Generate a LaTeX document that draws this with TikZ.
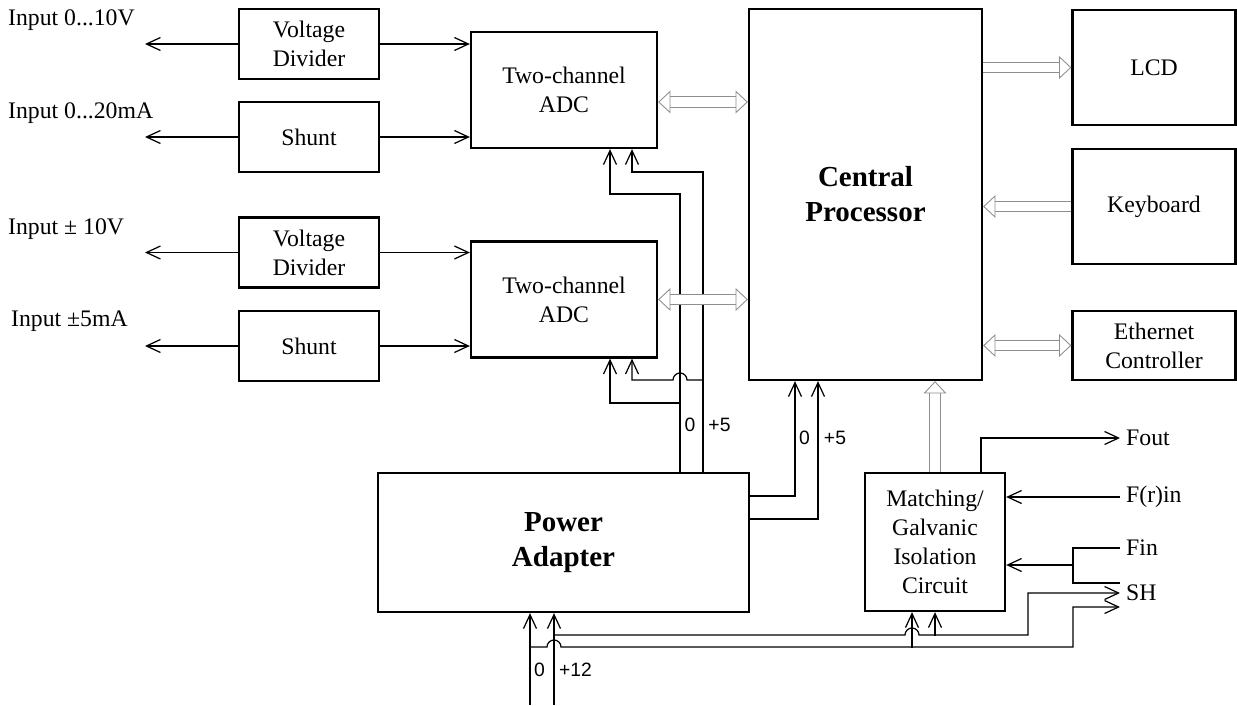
\documentclass[tikz,border=0pt]{standalone}
\usepackage{fontspec}
\setmainfont{Liberation Serif}
\newfontfamily\voltfont{Liberation Sans}
\usepackage{xcolor}
\usepackage{tikz}
\usetikzlibrary{arrows.meta,positioning,calc}
\definecolor{BusGray}{HTML}{8E8E8E}

\begin{document}
\begin{tikzpicture}[>={Straight Barb[length=2.8mm,width=2.6mm]},
    block/.style={draw,line width=1.3pt,align=center,inner sep=2pt,font=\fontsize{13.5}{16.5}\selectfont},
    bigblock/.style={block,font=\fontsize{16.5}{20}\selectfont\bfseries},
    conv/.style={block,minimum width=2.8cm,minimum height=1.4cm},
    adc/.style={block,minimum width=3.72cm,minimum height=2.32cm},
    side/.style={block,minimum width=3.26cm},
    wire/.style={line width=0.7pt},
    bus/.style={draw=BusGray,line width=0.5pt,double=white,double distance=5.5pt,
      >={Triangle[open,length=7pt,width=13pt,line width=0.5pt]}},
    sig/.style={font=\fontsize{13.5}{16}\selectfont},
    volt/.style={font=\voltfont\fontsize{11}{13}\selectfont}]
    \useasboundingbox (0,0) rectangle (24.74,14.1);
    % input conditioning
    \node[conv] (vdA) at (6.18,13.22) {Voltage\\Divider};
    \node[conv] (shA) at (6.18,11.36) {Shunt};
    \node[conv] (vdB) at (6.18,9.05) {Voltage\\Divider};
    \node[conv] (shB) at (6.18,7.18) {Shunt};
    \node[sig,anchor=west] (txtA) at (0.04,13.7) {Input 0...10V};
    \node[sig,anchor=west] (txtB) at (0.04,11.84) {Input 0...20mA};
    \node[sig,anchor=west] (txtC) at (0.04,9.52) {Input ± 10V};
    \node[sig,anchor=west] (txtD) at (0.1,7.68) {Input ±5mA};
    \coordinate (inA) at (2.9,13.22);
    \coordinate (inB) at (2.9,11.36);
    \coordinate (inC) at (2.9,9.05);
    \coordinate (inD) at (2.9,7.18);
    % converters, processor, peripherals
    \node[adc] (adcA) at (11.28,12.3) {Two-channel\\ADC};
    \node[adc] (adcB) at (11.28,8.11) {Two-channel\\ADC};
    \node[bigblock,minimum width=4.66cm,minimum height=7.42cm] (cpu) at (17.31,10.21) {Central\\Processor};
    \node[side,minimum height=2.3cm] (lcd) at (23.08,12.75) {LCD};
    \node[side,minimum height=2.3cm] (kbd) at (23.08,9.97) {Keyboard};
    \node[side,minimum height=1.38cm] (eth) at (23.08,7.19) {Ethernet\\Controller};
    \node[bigblock,minimum width=7.42cm,minimum height=2.78cm] (pwr) at (11.27,3.25) {Power\\Adapter};
    \node[block,minimum width=2.8cm,minimum height=2.76cm] (match) at (18.7,3.26) {Matching/\\Galvanic\\Isolation\\Circuit};
    % external signals
    \node[sig,anchor=west] (fout) at (22.4,5.34) {Fout};
    \node[sig,anchor=west] (frin) at (22.4,4.16) {F(r)in};
    \node[sig,anchor=west] (fin) at (22.4,3.14) {Fin};
    \node[sig,anchor=west] (sh) at (22.4,2.24) {SH};
    \node[volt] (zeroTxtA) at (13.8,5.6) {0};
    \node[volt] (plusTxtA) at (14.39,5.6) {+5};
    \node[volt] (zeroTxtB) at (16.09,5.34) {0};
    \node[volt] (plusTxtB) at (16.7,5.34) {+5};
    \node[volt] (zeroTxtC) at (10.79,0.7) {0};
    \node[volt] (plusTxtC) at (11.51,0.7) {+12};
    \coordinate (zeroA) at (13.6,4.64);
    \coordinate (plusA) at (14.06,4.64);
    \coordinate (zeroB) at (10.6,0);
    \coordinate (plusB) at (11.08,0);
    \coordinate (busA) at ([yshift=-2.4mm]adcA.east);
    \coordinate (finJ) at (21.46,2.8);

    \draw[wire,->] (vdA.west) -- (inA);
    \draw[wire,->] (shA.west) -- (inB);
    \draw[wire,->] (vdB.west) -- (inC);
    \draw[wire,->] (shB.west) -- (inD);
    \draw[wire,->] (vdA.east) -- (vdA.east -| adcA.west);
    \draw[wire,->] (shA.east) -- (shA.east -| adcA.west);
    \draw[wire,->] (vdB.east) -- (vdB.east -| adcB.west);
    \draw[wire,->] (shB.east) -- (shB.east -| adcB.west);

    % 5 V supply
    \draw[wire,<-] ([xshift=9.2mm]adcA.south) |- ([yshift=55.8mm]zeroA) -- (zeroA);
    \draw[wire,<-] ([xshift=13.6mm]adcA.south) |- ([yshift=60.2mm]plusA) -- (plusA);
    \draw[wire,<-] ([xshift=9.2mm]adcB.south) |- ([yshift=14mm]zeroA);
    \draw[wire,<-] ([xshift=13.6mm]adcB.south) |- ([xshift=-1.4mm,yshift=18.6mm]zeroA)
      arc[start angle=180,end angle=0,radius=1.4mm] -- ([yshift=18.6mm]plusA);
    \draw[wire,->] ([yshift=9.3mm]pwr.east) -| ([xshift=-14.1mm]cpu.south);
    \draw[wire,->] ([yshift=4.7mm]pwr.east) -| ([xshift=-9.5mm]cpu.south);

    % data buses
    \draw[bus,<->] (busA) -- (busA -| cpu.west);
    \draw[bus,<->] (adcB.east) -- (adcB.east -| cpu.west);
    \draw[bus,->] (cpu.east |- lcd.west) -- (lcd.west);
    \draw[bus,->] (kbd.west) -- (kbd.west -| cpu.east);
    \draw[bus,<->] (cpu.east |- eth.west) -- (eth.west);
    \draw[bus,->] (match.north) -- (match.north |- cpu.south);

    % 12 V input and isolated lines
    \draw[wire,->] (zeroB) -- (zeroB |- pwr.south);
    \draw[wire,->] (plusB) -- (plusB |- pwr.south);
    \draw[wire,->] ([yshift=11.6mm]zeroB) -- ([xshift=-1.4mm,yshift=11.6mm]plusB)
      arc[start angle=180,end angle=0,radius=1.4mm] -- (21.46,1.16) |- ([yshift=-2.8mm]sh.west);
    \draw[wire,->] ([yshift=14mm]plusB) -- (18.1,1.4)
      arc[start angle=180,end angle=0,radius=1.4mm] -- (20.56,1.4) |- (sh.west);
    \draw[wire,<-] ([xshift=-4.6mm]match.south) -- ++(0,-0.72);
    \draw[wire,<-] (match.south) -- ++(0,-0.48);
    \draw[wire,->] ([xshift=9.2mm]match.north) |- (fout.west);
    \draw[wire,->] (frin.west) -- (frin.west -| match.east);
    \draw[wire] (fin.west) -| ([yshift=-3.6mm]finJ) -- ++(0.94,0);
    \draw[wire,->] (finJ) -- (finJ -| match.east);
\end{tikzpicture}
\end{document}
